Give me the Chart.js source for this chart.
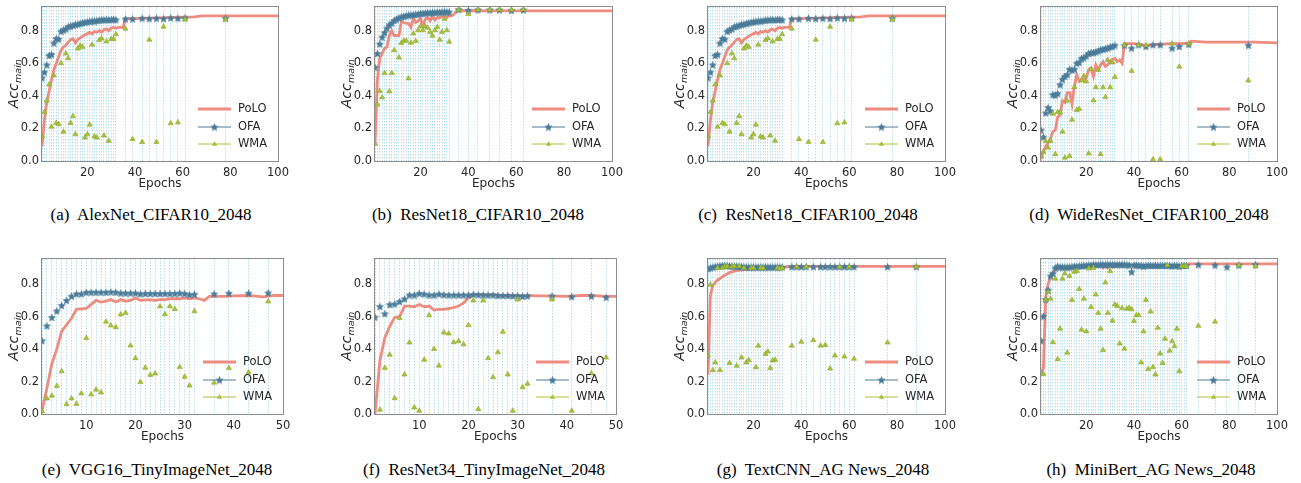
<!DOCTYPE html>
<html>
<head>
<meta charset="utf-8">
<script src="https://cdn.jsdelivr.net/npm/chart.js@4.4.1/dist/chart.umd.min.js"></script>
<style>
  html, body { margin: 0; padding: 0; background: #fff; }
  body { width: 1301px; height: 483px; position: relative; overflow: hidden; }
  canvas { position: absolute; }
  .cap { position: absolute; width: 320px; text-align: center; white-space: nowrap;
         font: 17px "Liberation Serif", "DejaVu Serif", serif; color: #000; line-height: 20px; }
</style>
</head>
<body>
<div id="figure"></div>
<script>
function range(a, b) { const r = []; for (let i = a; i <= b; i++) r.push(i); return r; }

// tick labels
const xTicks100 = [20, 40, 60, 80, 100];
const xTicks50 = [10, 20, 30, 40, 50];
const yTicks = [0, 0.2, 0.4, 0.6, 0.8];

// (a) AlexNet_CIFAR10 and (c) ResNet18_CIFAR100 (same curves in the figure)
const evalA = range(1, 32).concat([36, 39, 43, 46, 49, 52, 55, 58, 61, 78]);
const ofaA = [0.51, 0.545, 0.59, 0.648, 0.654, 0.724, 0.752, 0.748, 0.796, 0.804,
  0.81, 0.824, 0.828, 0.832, 0.838, 0.84, 0.844, 0.848, 0.852, 0.854,
  0.856, 0.86, 0.858, 0.862, 0.864, 0.866, 0.866, 0.868, 0.866, 0.868,
  0.87, 0.866,
  0.872, 0.872, 0.876, 0.874, 0.876, 0.874, 0.878, 0.876, 0.878, 0.876];
const wmaA = [0.15, 0.30, 0.37, 0.47, 0.21, 0.525, 0.233, 0.225, 0.60, 0.18,
  0.66, 0.63, 0.233, 0.275, 0.164, 0.69, 0.708, 0.70, 0.144, 0.164,
  0.223, 0.714, 0.15, 0.144, 0.742, 0.752, 0.156, 0.734, 0.124, 0.748,
  0.748, 0.778,
  0.812, 0.134, 0.116, 0.744, 0.116, 0.824, 0.231, 0.237, 0.868, 0.868];
const poloAx = range(1, 36).concat([40, 50, 60, 65, 68, 80, 100]);
const poloAy = [0.09, 0.25, 0.36, 0.43, 0.50, 0.56, 0.60, 0.64, 0.68, 0.70,
  0.71, 0.73, 0.745, 0.75, 0.725, 0.745, 0.755, 0.765, 0.775, 0.78,
  0.79, 0.78, 0.795, 0.79, 0.80, 0.79, 0.805, 0.81, 0.80, 0.815,
  0.82, 0.815, 0.82, 0.82, 0.82, 0.872,
  0.874, 0.878, 0.882, 0.885, 0.89, 0.89, 0.89];

// (b) ResNet18_CIFAR10
const evalB = range(1, 32).concat([36, 40, 44, 49, 53, 58, 63]);
const ofaB = [0.575, 0.66, 0.718, 0.76, 0.788, 0.815, 0.836, 0.846, 0.862, 0.87,
  0.878, 0.884, 0.888, 0.892, 0.895, 0.897, 0.898, 0.90, 0.902, 0.905,
  0.907, 0.908, 0.91, 0.91, 0.912, 0.912, 0.913, 0.913, 0.914, 0.915,
  0.915, 0.914,
  0.93, 0.925, 0.928, 0.928, 0.928, 0.925, 0.928];
const wmaB = [0.106, 0.347, 0.43, 0.39, 0.54, null, 0.427, 0.54, 0.68, null,
  0.635, 0.724, 0.738, 0.738, 0.507, 0.726, 0.782, 0.736, 0.802, 0.826,
  0.802, 0.826, 0.818, 0.792, 0.768, 0.802, 0.822, 0.744, 0.792, 0.872,
  0.802, 0.732,
  0.928, 0.902, 0.928, 0.928, 0.928, 0.928, 0.93];
const poloBx = range(1, 36).concat([40, 60, 80, 100]);
const poloBy = [0.10, 0.50, 0.63, 0.66, 0.69, 0.70, 0.77, 0.80, 0.77, 0.77,
  0.77, 0.855, 0.85, 0.845, 0.845, 0.82, 0.875, 0.85, 0.86, 0.875,
  0.83, 0.87, 0.88, 0.86, 0.89, 0.865, 0.88, 0.88, 0.885, 0.89,
  0.88, 0.89, 0.89, 0.90, 0.92, 0.922,
  0.922, 0.921, 0.921, 0.921];

// (d) WideResNet_CIFAR100
const evalD = range(1, 32).concat([36, 39, 42, 45, 48, 51, 56, 59, 63, 88]);
const ofaD = [0.19, 0.147, 0.295, 0.328, 0.307, 0.408, 0.404, 0.414, 0.468, 0.502,
  0.519, 0.53, 0.563, 0.559, 0.563, 0.60, 0.605, 0.63, 0.633, 0.645,
  0.66, 0.665, 0.665, 0.67, 0.675, 0.683, 0.685, 0.69, 0.693, 0.70,
  0.703, 0.71,
  0.71, 0.693, 0.713, 0.703, 0.713, 0.713, 0.693, 0.703, 0.716, 0.71];
const wmaD = [0.03, 0.056, 0.123, 0.082, 0.123, 0.29, 0.042, 0.30, 0.297, 0.18,
  0.02, 0.37, 0.03, 0.253, 0.454, 0.313, 0.32, 0.494, 0.522, 0.488,
  0.046, 0.563, 0.372, 0.452, 0.559, 0.042, 0.452, 0.392, 0.62, 0.452,
  0.605, 0.515,
  0.71, 0.553, 0.713, 0.71, 0.01, 0.01, 0.72, 0.579, 0.72, 0.494];
const poloDx = range(1, 36).concat([40, 45, 50, 55, 60, 63, 64, 70, 80, 90, 100]);
const poloDy = [0.01, 0.06, 0.09, 0.11, 0.14, 0.18, 0.19, 0.27, 0.28, 0.37,
  0.36, 0.42, 0.42, 0.35, 0.46, 0.53, 0.49, 0.50, 0.50, 0.51,
  0.56, 0.57, 0.52, 0.59, 0.56, 0.59, 0.61, 0.58, 0.59, 0.61,
  0.625, 0.63, 0.61, 0.62, 0.60, 0.72,
  0.72, 0.71, 0.715, 0.72, 0.72, 0.725, 0.735, 0.73, 0.73, 0.73, 0.725];

// (e) VGG16_TinyImageNet
const evalE = range(1, 32).concat([36, 39, 43, 47]);
const ofaE = [0.452, 0.543, 0.595, 0.635, 0.669, 0.70, 0.726, 0.74, 0.74, 0.75,
  0.75, 0.75, 0.75, 0.75, 0.752, 0.75, 0.745, 0.745, 0.745, 0.745,
  0.74, 0.742, 0.742, 0.742, 0.742, 0.742, 0.742, 0.742, 0.745, 0.742,
  0.735, 0.738,
  0.74, 0.744, 0.744, 0.746];
const wmaE = [0.016, 0.096, 0.113, 0.173, 0.263, 0.06, 0.096, 0.062, 0.127, 0.468,
  0.12, 0.15, 0.133, 0.569, 0.545, 0.535, 0.613, 0.623, 0.422, 0.344,
  0.197, 0.285, 0.241, 0.249, 0.663, 0.615, 0.663, 0.647, 0.289, 0.229,
  0.175, 0.633,
  0.193, 0.283, 0.257, 0.693];
const poloEx = range(1, 36).concat([38, 40, 43, 45, 46, 48, 50]);
const poloEy = [0.02, 0.16, 0.31, 0.40, 0.51, 0.55, 0.59, 0.645, 0.648, 0.65,
  0.675, 0.70, 0.69, 0.695, 0.705, 0.69, 0.705, 0.695, 0.70, 0.715,
  0.70, 0.703, 0.703, 0.70, 0.705, 0.705, 0.71, 0.71, 0.71, 0.715,
  0.71, 0.715, 0.71, 0.70, 0.725, 0.725,
  0.725, 0.728, 0.73, 0.725, 0.722, 0.73, 0.73];

// (f) ResNet34_TinyImageNet
const evalF = range(1, 32).concat([37, 41, 45, 48]);
const ofaF = [0.597, 0.662, 0.618, 0.674, 0.678, 0.693, 0.709, 0.733, 0.733, 0.743,
  0.739, 0.733, 0.733, 0.739, 0.735, 0.733, 0.733, 0.733, 0.733, 0.733,
  0.737, 0.735, 0.733, 0.733, 0.733, 0.73, 0.73, 0.73, 0.728, 0.728,
  0.725, 0.728,
  0.727, 0.723, 0.727, 0.719];
const wmaF = [null, 0.026, 0.284, 0.365, 0.097, 0.591, 0.243, 0.44, 0.04, 0.02,
  0.334, 0.608, 0.401, 0.298, 0.502, 0.496, 0.442, 0.45, 0.429, 0.547,
  0.699, 0.03, 0.699, 0.344, 0.227, 0.38, 0.506, 0.243, 0.02, 0.705,
  0.165, 0.186,
  0.705, 0.02, 0.25, 0.348];
const poloFx = range(1, 25).concat([26, 28, 30, 35, 40, 43, 45, 48, 50]);
const poloFy = [0.0, 0.33, 0.47, 0.54, 0.595, 0.60, 0.665, 0.665, 0.66, 0.675,
  0.66, 0.665, 0.64, 0.645, 0.645, 0.65, 0.655, 0.665, 0.685, 0.715,
  0.735, 0.735, 0.735, 0.733, 0.738,
  0.73, 0.73, 0.73, 0.728, 0.725, 0.73, 0.73, 0.725, 0.725];

// (g) TextCNN_AG News
const evalG = range(1, 32).concat([36, 38, 40, 42, 45, 48, 50, 52, 54, 56, 58, 60, 62, 76, 88]);
const ofaG = [0.895, 0.90, 0.905, 0.908, 0.91, 0.912, 0.915, 0.915, 0.914, 0.912,
  0.91, 0.91, 0.91, 0.908, 0.908, 0.906, 0.906, 0.905, 0.905, 0.905,
  0.905, 0.905, 0.905, 0.905, 0.905, 0.905, 0.905, 0.905, 0.905, 0.905,
  0.905, 0.905,
  0.907, 0.907, 0.907, 0.907, 0.907, 0.907, 0.907, 0.907, 0.907, 0.907,
  0.907, 0.907, 0.907, 0.907, 0.907];
const wmaG = [0.36, 0.796, 0.27, 0.318, 0.90, 0.27, 0.90, 0.907, 0.911, 0.314,
  0.907, 0.911, 0.298, 0.911, 0.348, 0.90, 0.318, 0.332, 0.90, 0.90,
  0.288, 0.421, 0.90, 0.90, 0.37, 0.385, 0.283, 0.33, 0.334, 0.90,
  0.895, 0.90,
  0.421, 0.907, 0.445, 0.907, 0.455, 0.421, 0.425, 0.28, 0.36, 0.907,
  0.354, 0.907, 0.34, 0.44, 0.907];
const poloGx = [1, 2, 3, 4, 5, 6, 7, 8, 10, 12, 14, 16, 20, 25, 30, 32, 34, 40, 60, 80, 100];
const poloGy = [0.24, 0.73, 0.79, 0.81, 0.825, 0.835, 0.845, 0.855, 0.871, 0.88,
  0.886, 0.89, 0.893, 0.895, 0.897, 0.897, 0.908, 0.91, 0.91, 0.91, 0.91];

// (h) MiniBert_AG News
const evalH = range(1, 62).concat([67, 74, 79, 84, 91]);
const ofaH = [0.452, 0.603, 0.705, 0.764, 0.85, 0.866, 0.90, 0.91, 0.905, 0.905,
  0.905, 0.905, 0.905, 0.908, 0.91, 0.91, 0.912, 0.912, 0.915, 0.915,
  0.918, 0.918, 0.92, 0.92, 0.92, 0.922, 0.922, 0.92, 0.922, 0.922,
  0.92, 0.922, 0.92, 0.92, 0.922, 0.92, 0.92, 0.918, 0.876, 0.918,
  0.918, 0.916, 0.915, 0.91, 0.916, 0.915, 0.916, 0.915, 0.916, 0.915,
  0.915, 0.915, 0.916, 0.915, 0.915, 0.912, 0.915, 0.915, 0.91, 0.915,
  0.915, 0.915,
  0.92, 0.917, 0.906, 0.917, 0.92];
const wmaH = [0.247, 0.247, 0.703, 0.75, 0.71, 0.442, 0.834, 0.338, 0.525, 0.834,
  0.866, 0.378, 0.85, 0.703, 0.876, 0.88, 0.77, 0.519, 0.71, 0.509,
  0.896, 0.659, 0.9, 0.736, 0.623, 0.525, 0.394, 0.81, 0.623, 0.88,
  0.575, 0.675, 0.665, 0.434, 0.651, 0.402, 0.649, 0.653, 0.645, 0.573,
  0.609, 0.609, 0.318, 0.509, 0.703, 0.277, 0.631, 0.289, 0.243, 0.531,
  0.372, 0.314, 0.464, 0.917, 0.39, 0.448, 0.418, 0.525, 0.263, 0.91,
  0.91, 0.91,
  0.543, 0.569, null, 0.917, 0.91];
const poloHx = [1, 2, 3, 4, 5, 6, 7, 8, 10, 15, 20, 25, 26, 27, 28, 29, 30, 31, 32, 35, 40, 50, 60, 62, 63, 70, 100];
const poloHy = [0.26, 0.28, 0.72, 0.80, 0.845, 0.87, 0.885, 0.895, 0.90, 0.905,
  0.91, 0.915, 0.915, 0.90, 0.915, 0.90, 0.92, 0.905, 0.92, 0.92,
  0.915, 0.915, 0.91, 0.915, 0.925, 0.925, 0.925];

// ---------- styling ----------
const POLO_COLOR = 'rgba(236,128,114,0.9)';
const OFA_COLOR = '#4a7b98';
const WMA_COLOR = '#a6c23a';
const WMA_EDGE = '#8fa92c';
const VLINE_COLOR = '#b6dde9';
const TEXT_COLOR = '#262626';
const FRAME_COLOR = '#8c8c8c';

Chart.defaults.font.family = '"DejaVu Sans", sans-serif';
Chart.defaults.font.size = 11;
Chart.defaults.color = TEXT_COLOR;

function makeStar(fill, size) {
  const c = document.createElement('canvas');
  c.width = size; c.height = size;
  const g = c.getContext('2d');
  const r = size / 2, ri = r * 0.45;
  g.beginPath();
  for (let i = 0; i < 10; i++) {
    const rad = i % 2 ? ri : r - 0.2;
    const a = -Math.PI / 2 + i * Math.PI / 5;
    g.lineTo(r + rad * Math.cos(a), r + 0.4 + rad * Math.sin(a));
  }
  g.closePath();
  g.fillStyle = fill;
  g.fill();
  return c;
}
const starImg = makeStar(OFA_COLOR, 9);

function pts(xs, ys) {
  return xs.map((x, i) => ({ x: x, y: ys[i] })).filter(p => p.y !== null);
}

const panels = [
  { L: 42, R: 278, T: 4, B: 161, xMax: 100, yMax: 0.945, xt: xTicks100, ev: evalA, ofa: ofaA, wma: wmaA, px: poloAx, py: poloAy, cap: '(a)\u00a0 AlexNet_CIFAR10_2048', cx: 151, cy: 205 },
  { L: 375, R: 612, T: 4, B: 161, xMax: 100, yMax: 0.945, xt: xTicks100, ev: evalB, ofa: ofaB, wma: wmaB, px: poloBx, py: poloBy, cap: '(b)\u00a0 ResNet18_CIFAR10_2048', cx: 478, cy: 205 },
  { L: 708, R: 945, T: 4, B: 161, xMax: 100, yMax: 0.945, xt: xTicks100, ev: evalA, ofa: ofaA, wma: wmaA, px: poloAx, py: poloAy, cap: '(c)\u00a0 ResNet18_CIFAR100_2048', cx: 808, cy: 205 },
  { L: 1041, R: 1277, T: 4, B: 161, xMax: 100, yMax: 0.945, xt: xTicks100, ev: evalD, ofa: ofaD, wma: wmaD, px: poloDx, py: poloDy, cap: '(d)\u00a0 WideResNet_CIFAR100_2048', cx: 1149, cy: 205 },
  { L: 42, R: 283, T: 256, B: 414, xMax: 50, yMax: 0.955, xt: xTicks50, ev: evalE, ofa: ofaE, wma: wmaE, px: poloEx, py: poloEy, cap: '(e)\u00a0 VGG16_TinyImageNet_2048', cx: 157, cy: 460 },
  { L: 375, R: 616, T: 256, B: 414, xMax: 50, yMax: 0.955, xt: xTicks50, ev: evalF, ofa: ofaF, wma: wmaF, px: poloFx, py: poloFy, cap: '(f)\u00a0 ResNet34_TinyImageNet_2048', cx: 484, cy: 460 },
  { L: 708, R: 945, T: 256, B: 414, xMax: 100, yMax: 0.955, xt: xTicks100, ev: evalG, ofa: ofaG, wma: wmaG, px: poloGx, py: poloGy, cap: '(g)\u00a0 TextCNN_AG News_2048', cx: 823, cy: 460 },
  { L: 1041, R: 1277, T: 256, B: 414, xMax: 100, yMax: 0.955, xt: xTicks100, ev: evalH, ofa: ofaH, wma: wmaH, px: poloHx, py: poloHy, cap: '(h)\u00a0 MiniBert_AG News_2048', cx: 1151, cy: 460 }
];

const decor = {
  id: 'decor',
  afterDraw(chart) {
    const ctx = chart.ctx, ca = chart.chartArea;
    ctx.save();
    // frame
    ctx.strokeStyle = FRAME_COLOR;
    ctx.lineWidth = 1;
    ctx.strokeRect(Math.round(ca.left) - 0.5, Math.round(ca.top) - 0.5,
      Math.round(ca.right - ca.left) + 1, Math.round(ca.bottom - ca.top) + 1);
    // legend
    const rows = [
      { name: 'PoLO', color: POLO_COLOR, w: 2.8, mk: null },
      { name: 'OFA', color: OFA_COLOR, w: 1, mk: 'star' },
      { name: 'WMA', color: WMA_COLOR, w: 1, mk: 'tri' }
    ];
    const offs = [52, 34, 17];
    const x0 = ca.right - 80, x1 = ca.right - 47;
    rows.forEach((r, i) => {
      const y = ca.bottom - offs[i];
      ctx.strokeStyle = r.color;
      ctx.lineWidth = r.w;
      ctx.beginPath(); ctx.moveTo(x0, y); ctx.lineTo(x1, y); ctx.stroke();
      const mx = (x0 + x1) / 2;
      if (r.mk === 'star') {
        ctx.drawImage(starImg, mx - starImg.width / 2, y - starImg.height / 2);
      } else if (r.mk === 'tri') {
        ctx.fillStyle = WMA_COLOR;
        ctx.beginPath();
        ctx.moveTo(mx, y - 3); ctx.lineTo(mx + 2.7, y + 1.8); ctx.lineTo(mx - 2.7, y + 1.8);
        ctx.closePath(); ctx.fill();
      }
      ctx.fillStyle = TEXT_COLOR;
      ctx.font = '11.5px "DejaVu Sans"';
      ctx.textAlign = 'left';
      ctx.textBaseline = 'middle';
      ctx.fillText(r.name, ca.right - 40, y + 0.5);
    });
    // y-axis title Acc_main
    ctx.translate(ca.left - 29, (ca.top + ca.bottom) / 2);
    ctx.rotate(-Math.PI / 2);
    ctx.fillStyle = TEXT_COLOR;
    ctx.textAlign = 'left';
    ctx.textBaseline = 'alphabetic';
    ctx.font = 'italic 14px "DejaVu Sans"';
    const w1 = ctx.measureText('Acc').width;
    ctx.font = 'italic 9.5px "DejaVu Sans"';
    const w2 = ctx.measureText('main').width;
    const sx = -(w1 + w2) / 2;
    ctx.font = 'italic 14px "DejaVu Sans"';
    ctx.fillText('Acc', sx, 5);
    ctx.font = 'italic 9.5px "DejaVu Sans"';
    ctx.fillText('main', sx + w1 + 0.5, 8);
    ctx.restore();
  }
};

const fig = document.getElementById('figure');
const YW = 45, XH = 32, PADR = 16, PADT = 2;

panels.forEach(p => {
  const cv = document.createElement('canvas');
  const w = p.R - p.L + YW + PADR;
  const h = p.B - p.T + PADT + XH;
  cv.width = w; cv.height = h;
  cv.style.left = (p.L - YW) + 'px';
  cv.style.top = (p.T - PADT) + 'px';
  cv.style.width = w + 'px';
  cv.style.height = h + 'px';
  fig.appendChild(cv);

  const cap = document.createElement('div');
  cap.className = 'cap';
  cap.textContent = p.cap;
  cap.style.left = (p.cx - 160) + 'px';
  cap.style.top = p.cy + 'px';
  fig.appendChild(cap);

  new Chart(cv, {
    type: 'line',
    data: {
      datasets: [
        { label: 'WMA', data: pts(p.ev, p.wma), xAxisID: 'x', yAxisID: 'y', showLine: false,
          pointStyle: 'triangle', pointRadius: 3, pointBackgroundColor: WMA_COLOR,
          pointBorderColor: WMA_EDGE, pointBorderWidth: 0.6, order: 1 },
        { label: 'OFA', data: pts(p.ev, p.ofa), xAxisID: 'x', yAxisID: 'y', showLine: false,
          pointStyle: starImg, pointRadius: 3, order: 2 },
        { label: 'PoLO', data: pts(p.px, p.py), xAxisID: 'x', yAxisID: 'y',
          borderColor: POLO_COLOR, borderWidth: 2.8, pointRadius: 0, tension: 0, order: 3 }
      ]
    },
    options: {
      responsive: false,
      animation: false,
      devicePixelRatio: 1,
      layout: { padding: { top: PADT, right: PADR, left: 0, bottom: 0 } },
      plugins: { legend: { display: false }, tooltip: { enabled: false } },
      scales: {
        x: {
          type: 'linear', position: 'bottom', min: 1, max: p.xMax,
          afterBuildTicks: a => { a.ticks = p.xt.map(v => ({ value: v })); },
          afterFit: s => { s.height = XH; s.paddingLeft = 0; s.paddingRight = 0; },
          grid: { display: false, drawTicks: false },
          border: { display: false },
          ticks: { padding: 5, maxRotation: 0, autoSkip: false, color: TEXT_COLOR,
                   font: { size: 11.5 }, callback: v => String(v) },
          title: { display: true, text: 'Epochs', color: TEXT_COLOR, font: { size: 12 },
                   padding: { top: 0, bottom: 2 } }
        },
        xv: {
          type: 'linear', position: 'bottom', min: 1, max: p.xMax,
          afterBuildTicks: a => { a.ticks = p.ev.map(v => ({ value: v })); },
          afterFit: s => { s.height = 0; s.paddingLeft = 0; s.paddingRight = 0; },
          ticks: { display: false },
          grid: { color: VLINE_COLOR, lineWidth: 1, drawTicks: false },
          border: { display: false, dash: [1.5, 1.5] }
        },
        y: {
          type: 'linear', min: 0, max: p.yMax,
          afterBuildTicks: a => { a.ticks = yTicks.map(v => ({ value: v })); },
          afterFit: s => { s.width = YW; s.paddingTop = 0; s.paddingBottom = 0; },
          grid: { display: false, drawTicks: false },
          border: { display: false },
          ticks: { padding: 3, color: TEXT_COLOR, font: { size: 11.5 }, callback: v => v.toFixed(1) }
        }
      }
    },
    plugins: [decor]
  });
});
</script>
</body>
</html>
